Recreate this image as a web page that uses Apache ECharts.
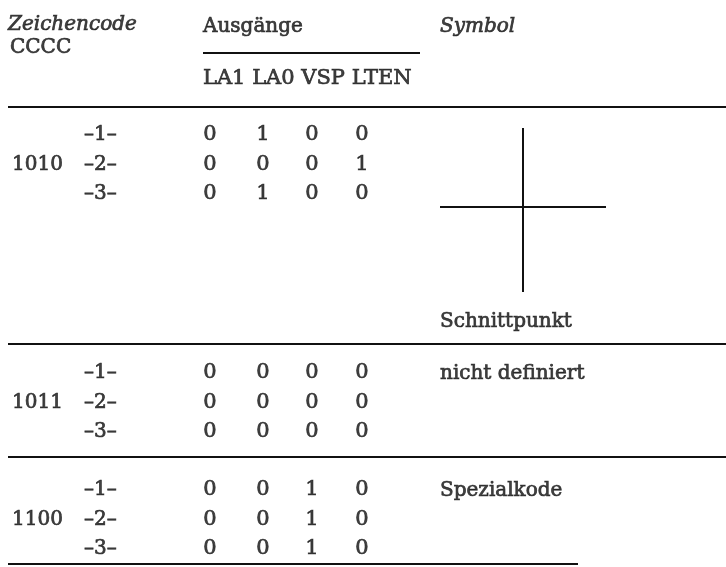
<!DOCTYPE html>
<html>
<head>
<meta charset="utf-8">
<script src="https://cdn.jsdelivr.net/npm/echarts@6/dist/echarts.min.js"></script>
<style>
html,body{margin:0;padding:0;background:#fff;}
#chart{width:726px;height:567px;}
</style>
</head>
<body>
<div id="chart"></div>
<script>
// ---- data ----
const codes = ["1010", "1011", "1100"];
const phases = ["–1–", "–2–", "–3–"];
const outputNames = ["LA1", "LA0", "VSP", "LTEN"];
const outputs1010 = [[0, 1, 0, 0], [0, 0, 0, 1], [0, 1, 0, 0]];
const outputs1011 = [[0, 0, 0, 0], [0, 0, 0, 0], [0, 0, 0, 0]];
const outputs1100 = [[0, 0, 1, 0], [0, 0, 1, 0], [0, 0, 1, 0]];
const symbolNames = ["Schnittpunkt", "nicht definiert", "Spezialkode"];
const headCode = ["Zeichencode", "CCCC"];
const headOutputs = "Ausgänge";
const headSymbol = "Symbol";

// ---- layout (page units) ----
const W = 726, H = 567;
const groupTop = [135, 373, 490];
const rowStep = 29.5;
const colX = [210, 263, 312, 362];
const codeX = 12, phaseX = 84, symX = 440;
const FONT = "DejaVu Serif";
const INK = "#111111";

const outputsByCode = [outputs1010, outputs1011, outputs1100];

const leftTexts = [];   // left-aligned regular
const italicTexts = []; // left-aligned italic
const centerTexts = []; // centred digits
const headTexts = [];   // output header names

italicTexts.push([8, 25, headCode[0]]);
leftTexts.push([10, 48, headCode[1]]);
leftTexts.push([203, 27, headOutputs]);
headTexts.push([203, 79, outputNames.join(" ")]);
italicTexts.push([symX, 27, headSymbol]);

codes.forEach((c, g) => {
  const y0 = groupTop[g];
  leftTexts.push([codeX, y0 + rowStep, c]);
  phases.forEach((p, r) => {
    const y = y0 + r * rowStep;
    leftTexts.push([phaseX, y, p]);
    outputsByCode[g][r].forEach((v, k) => {
      centerTexts.push([colX[k], y, String(v)]);
    });
  });
  leftTexts.push([symX, g === 0 ? 322 : y0 + 1, symbolNames[g]]);
});

const rules = [
  [[203, 53], [420, 53]],
  [[8, 107], [W, 107]],
  [[8, 344], [W, 344]],
  [[8, 457], [W, 457]],
  [[8, 564], [578, 564]]
];
const cross = [
  [[523, 128], [523, 292]],
  [[440, 207], [606, 207]]
];

function textSeries(data, align, style) {
  return {
    type: "scatter",
    symbolSize: 0,
    silent: true,
    data: data,
    label: Object.assign({
      show: true,
      position: "inside",
      align: align,
      verticalAlign: "middle",
      formatter: p => p.value[2],
      fontFamily: FONT,
      fontSize: 20,
      color: INK,
      textBorderColor: INK,
      textBorderWidth: 0.7
    }, style || {})
  };
}

const chart = echarts.init(document.getElementById("chart"), null, {renderer: "canvas"});
chart.setOption({
  backgroundColor: "#ffffff",
  animation: false,
  grid: {left: 0, right: 0, top: 0, bottom: 0},
  xAxis: {type: "value", min: 0, max: W, show: false},
  yAxis: {type: "value", min: 0, max: H, inverse: true, show: false},
  series: [
    {
      type: "lines",
      coordinateSystem: "cartesian2d",
      silent: true,
      data: rules.map(c => ({coords: c})),
      lineStyle: {color: INK, width: 2, opacity: 1}
    },
    {
      type: "lines",
      coordinateSystem: "cartesian2d",
      silent: true,
      data: cross.map(c => ({coords: c})),
      lineStyle: {color: INK, width: 2, opacity: 1}
    },
    textSeries(leftTexts, "left"),
    textSeries(italicTexts, "left", {fontStyle: "italic"}),
    textSeries(centerTexts, "center", {fontSize: 21}),
    textSeries(headTexts, "left", {fontSize: 21})
  ]
});
</script>
</body>
</html>
